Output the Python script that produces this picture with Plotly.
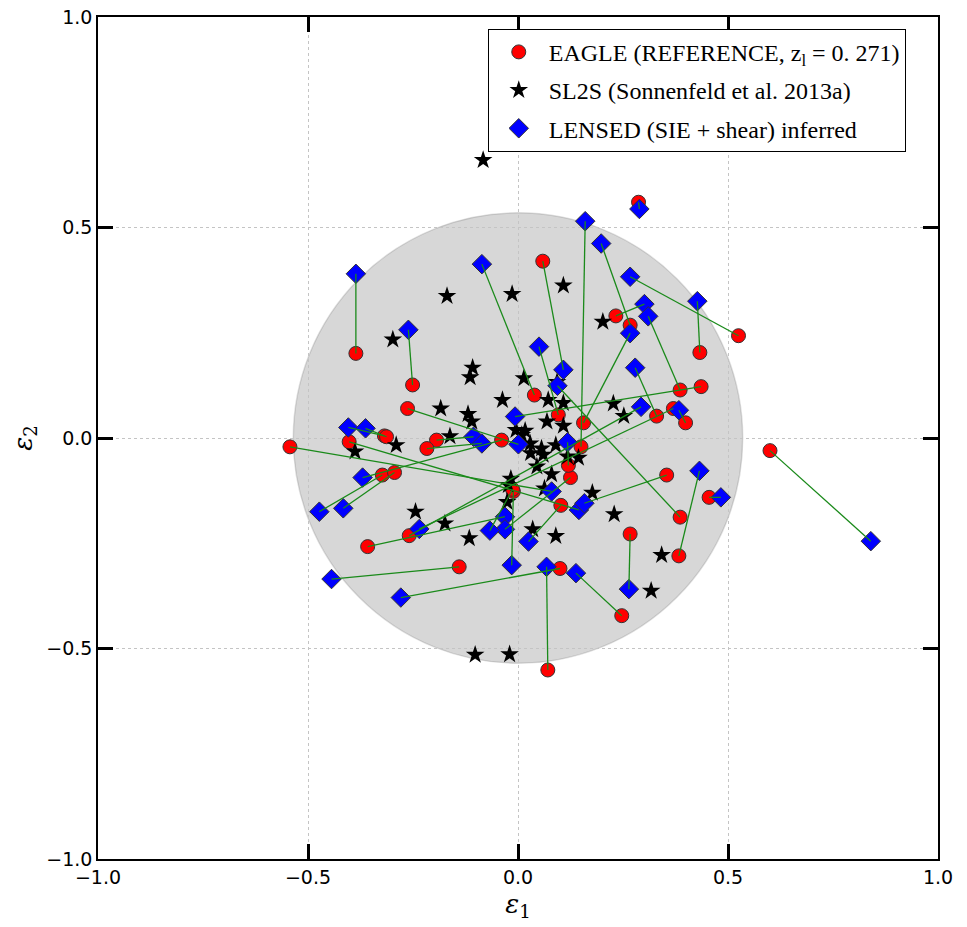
import plotly.graph_objects as go

# EAGLE reference ellipticities (paired by index with LENSED inferred values)
eagle_e1 = [-0.386, -0.251, 0.039, -0.263, -0.318, -0.313, -0.402, -0.543, -0.194, -0.217,
            -0.039, -0.323, -0.294, -0.358, -0.259, -0.140, 0.100, 0.071, 0.247, 0.267,
            0.383, 0.455, 0.386, 0.354, 0.102, 0.125, 0.120, -0.011, -0.013, 0.150,
            0.156, 0.096, 0.059, 0.287, 0.267, 0.525, 0.433, 0.233, 0.386, 0.330,
            0.436, 0.370, 0.399, 0.600]
eagle_e2 = [0.201, 0.126, 0.102, 0.070, 0.005, 0.003, -0.009, -0.021, -0.005, -0.025,
            -0.005, -0.088, -0.082, -0.258, -0.232, -0.306, -0.310, -0.551, -0.422, -0.228,
            -0.280, -0.141, -0.188, -0.088, -0.160, -0.094, -0.065, -0.127, -0.122, -0.021,
            0.036, 0.055, 0.420, 0.560, 0.268, 0.243, 0.203, 0.290, 0.114, 0.052,
            0.122, 0.070, 0.036, -0.030]

lensed_e1 = [-0.386, -0.261, -0.086, 0.001, -0.404, -0.363, 0.145, 0.080, -0.106, -0.086,
             -0.370, -0.473, -0.416, -0.031, 0.293, -0.444, -0.279, 0.068, 0.138, 0.264,
             0.432, 0.483, 0.094, 0.158, 0.025, -0.031, 0.118, -0.015, -0.067, 0.160,
             0.267, 0.050, 0.108, 0.289, 0.198, 0.267, 0.427, 0.301, 0.310, 0.279,
             -0.007, -0.235, 0.383, 0.840]
lensed_e2 = [0.390, 0.257, 0.413, -0.015, 0.025, 0.023, -0.171, -0.127, 0.003, -0.013,
             -0.094, -0.175, -0.167, -0.187, 0.074, -0.335, -0.379, -0.306, -0.321, -0.359,
             -0.078, -0.141, 0.124, -0.155, -0.246, -0.217, -0.010, -0.302, -0.220, 0.515,
             0.249, 0.217, 0.162, 0.544, 0.462, 0.383, 0.325, 0.318, 0.289, 0.167,
             0.051, -0.216, 0.066, -0.245]

# SL2S (Sonnenfeld et al. 2013a)
sl2s_e1 = [-0.083, -0.169, -0.014, 0.108, -0.298, 0.202, -0.108, -0.114, 0.014, 0.093,
           -0.037, 0.072, 0.108, 0.227, 0.252, -0.184, -0.119, -0.110, 0.069, 0.108,
           -0.162, -0.005, 0.017, 0.009, 0.029, 0.030, 0.056, 0.060, 0.090, 0.118,
           0.144, 0.045, 0.080, -0.017, -0.023, 0.063, 0.177, -0.026, -0.388, -0.290,
           -0.244, -0.174, -0.116, 0.035, 0.090, 0.229, 0.342, 0.317, -0.102, -0.020]
sl2s_e2 = [0.660, 0.337, 0.342, 0.362, 0.234, 0.276, 0.167, 0.144, 0.142, 0.133,
           0.090, 0.090, 0.083, 0.082, 0.052, 0.070, 0.057, 0.039, 0.039, 0.029,
           0.004, 0.019, 0.017, 0.007, -0.013, -0.036, -0.025, -0.040, -0.017, -0.044,
           -0.047, -0.068, -0.086, -0.097, -0.112, -0.120, -0.130, -0.152, -0.032, -0.017,
           -0.175, -0.203, -0.238, -0.217, -0.233, -0.181, -0.278, -0.363, -0.515, -0.514]

circle_radius = 0.535
tick_vals = [-1.0, -0.5, 0.0, 0.5, 1.0]
tick_text = ["\u22121.0", "\u22120.5", "0.0", "0.5", "1.0"]

# connecting segments
seg_x, seg_y = [], []
for a, b, c, d in zip(eagle_e1, eagle_e2, lensed_e1, lensed_e2):
    seg_x += [a, c, None]
    seg_y += [b, d, None]

fig = go.Figure()

fig.add_trace(go.Scatter(
    x=eagle_e1, y=eagle_e2, mode="markers",
    name="EAGLE (REFERENCE, z<sub>l</sub> = 0. 271)",
    marker=dict(symbol="circle", size=14, color="#ff0000",
                line=dict(color="#333333", width=1)),
    legendgroup="a"))
fig.add_trace(go.Scatter(
    x=sl2s_e1, y=sl2s_e2, mode="markers",
    name="SL2S (Sonnenfeld et al. 2013a)",
    marker=dict(symbol="star", size=14, color="black",
                line=dict(color="black", width=0)),
    legendgroup="b"))
fig.add_trace(go.Scatter(
    x=lensed_e1, y=lensed_e2, mode="markers",
    name="LENSED (SIE + shear) inferred",
    marker=dict(symbol="diamond", size=15, color="#0000ff",
                line=dict(color="#333333", width=1)),
    legendgroup="c"))
fig.add_trace(go.Scatter(
    x=seg_x, y=seg_y, mode="lines",
    line=dict(color="#1a8a1a", width=1.3),
    showlegend=False, hoverinfo="skip"))

fig.add_shape(type="circle", xref="x", yref="y",
              x0=-circle_radius, y0=-circle_radius, x1=circle_radius, y1=circle_radius,
              fillcolor="rgba(0,0,0,0.155)", line=dict(color="rgba(0,0,0,0.12)", width=1.5),
              layer="below")

axis_common = dict(
    range=[-1, 1], tickvals=tick_vals, ticktext=tick_text, automargin=False,
    ticklabeloverflow="allow",
    ticks="inside", ticklen=15, tickwidth=2.5, tickcolor="black",
    showline=True, linecolor="black", linewidth=1.5, mirror="ticks",
    showgrid=True, gridcolor="#c4c4c4", griddash="dot", gridwidth=1,
    zeroline=False,
    tickfont=dict(family="DejaVu Sans", size=19, color="black"),
)

# page body has an 8px default margin, so the figure is 8px smaller and margins shifted
fig.update_layout(
    template="plotly",
    width=959, height=919,
    margin=dict(l=90, r=29, t=9, b=68),
    paper_bgcolor="white", plot_bgcolor="white",
    xaxis=dict(axis_common, title=dict(text="<i>\u03b5</i><sub>1</sub>",
               font=dict(family="DejaVu Serif", size=26, color="black"), standoff=8)),
    yaxis=dict(axis_common, title=dict(text="<i>\u03b5</i><sub>2</sub>",
               font=dict(family="DejaVu Serif", size=26, color="black"), standoff=22)),
    legend=dict(x=0.464, y=0.986, xanchor="left", yanchor="top",
                bordercolor="black", borderwidth=1, bgcolor="white",
                font=dict(family="Liberation Serif", size=24, color="black"),
                tracegroupgap=4, itemsizing="trace", itemwidth=50),
    showlegend=True,
)

fig.write_html("out.html")
